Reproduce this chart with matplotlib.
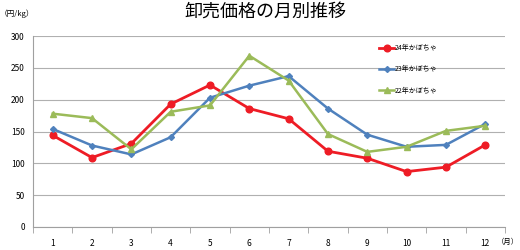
import numpy as np
import matplotlib.pyplot as plt
from matplotlib.ticker import FixedLocator

plt.rcParams['font.family'] = ['Noto Sans CJK JP', 'DejaVu Sans']

# months and monthly wholesale price (yen/kg)
months = ['1', '2', '3', '4', '5', '6', '7', '8', '9', '10', '11', '12']
price_24 = [144, 109, 131, 193, 223, 186, 170, 119, 108, 87, 94, 129]
price_23 = [154, 128, 114, 141, 203, 222, 237, 186, 145, 126, 129, 162]
price_22 = [178, 171, 122, 181, 191, 269, 230, 146, 118, 126, 151, 159]

fig = plt.figure(figsize=(5.2, 2.5), dpi=100)
ax = fig.add_axes([0.0635, 0.092, 0.9075, 0.764])

x = np.arange(len(months))
ax.plot(x, price_24, color='#ee1c25', lw=2, marker='o', ms=4.8, label='24年かぼちゃ', zorder=3)
ax.plot(x, price_23, color='#4f81bd', lw=1.8, marker='D', ms=3, label='23年かぼちゃ', zorder=3)
ax.plot(x, price_22, color='#9bbb59', lw=1.8, marker='^', ms=4.5, label='22年かぼちゃ', zorder=3)

ax.set_xlim(-0.5, len(months) - 0.5)
ax.set_ylim(0, 300)
ax.set_yticks(range(0, 301, 50))
ax.set_xticks(x)
ax.set_xticklabels(months)
ax.xaxis.set_minor_locator(FixedLocator(np.arange(-0.5, len(months), 1)))
ax.tick_params(axis='x', which='major', length=0, pad=9, labelsize=6)
ax.tick_params(axis='x', which='minor', length=4, color='#a0a0a0', direction='out')
ax.tick_params(axis='y', length=0, pad=6, labelsize=6)

ax.grid(axis='y', color='#b0b0b0', lw=0.8)
ax.set_axisbelow(True)
for s in ['top', 'right']:
    ax.spines[s].set_visible(False)
ax.spines['left'].set_color('#a0a0a0')
ax.spines['bottom'].set_color('#a0a0a0')

ax.legend(loc='upper left', bbox_to_anchor=(0.72, 0.99), frameon=False,
          fontsize=5, handlelength=2.2, handletextpad=0.1, labelspacing=1.9)

fig.text(0.51, 0.955, '卸売価格の月別推移', ha='center', va='center', fontsize=13)
fig.text(0.0, 0.945, '（円/kg）', ha='left', va='center', fontsize=5.5)
fig.text(0.998, 0.032, '（月）', ha='right', va='center', fontsize=5.3)

fig.savefig('out.png', dpi=100)
